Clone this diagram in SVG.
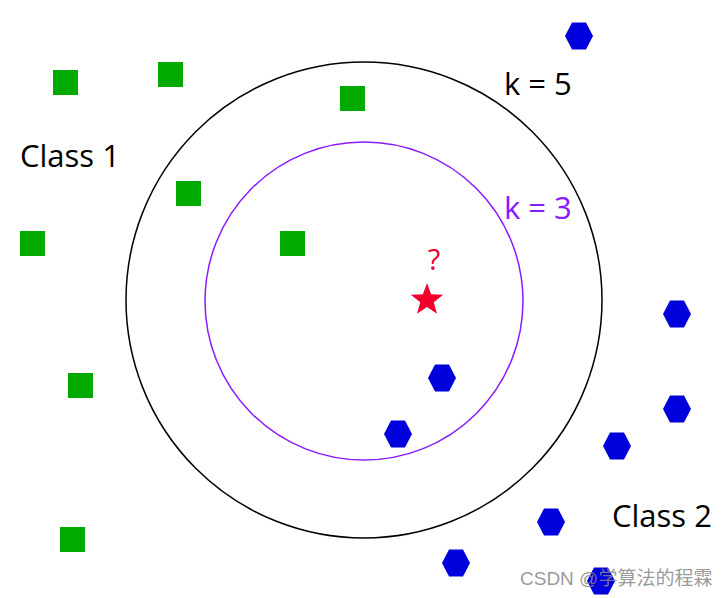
<svg xmlns="http://www.w3.org/2000/svg" xmlns:xlink="http://www.w3.org/1999/xlink" width="727" height="598" viewBox="0 0 727 598">
<style>
.sq{fill:#00aa00}
.hx{fill:#0000dd}
.lbl{font-family:"Open Sans","Noto Sans",sans-serif;font-size:31px}
</style>
<defs>
<polygon id="hex" points="-14,0 -7,-13.5 7,-13.5 14,0 7,13.5 -7,13.5"/>
</defs>
<rect width="727" height="598" fill="#fff"/>
<g id="connectors">
<circle id="k5" cx="364" cy="300" r="238" fill="none" stroke="#000" stroke-width="1.5"/>
<circle id="k3" cx="364" cy="301" r="159" fill="none" stroke="#8a1aff" stroke-width="1.5"/>
</g>
<g id="class1">
<rect class="sq" x="53" y="70" width="25" height="25"/>
<rect class="sq" x="158" y="62" width="25" height="25"/>
<rect class="sq" x="340" y="86" width="25" height="25"/>
<rect class="sq" x="176" y="181" width="25" height="25"/>
<rect class="sq" x="20" y="231" width="25" height="25"/>
<rect class="sq" x="280" y="231" width="25" height="25"/>
<rect class="sq" x="68" y="373" width="25" height="25"/>
<rect class="sq" x="60" y="527" width="25" height="25"/>
</g>
<g id="class2">
<use class="hx" href="#hex" xlink:href="#hex" x="579" y="36"/>
<use class="hx" href="#hex" xlink:href="#hex" x="442" y="378"/>
<use class="hx" href="#hex" xlink:href="#hex" x="398" y="434"/>
<use class="hx" href="#hex" xlink:href="#hex" x="677" y="314"/>
<use class="hx" href="#hex" xlink:href="#hex" x="677" y="409"/>
<use class="hx" href="#hex" xlink:href="#hex" x="617" y="446"/>
<use class="hx" href="#hex" xlink:href="#hex" x="551" y="522"/>
<use class="hx" href="#hex" xlink:href="#hex" x="456" y="563"/>
<use class="hx" href="#hex" xlink:href="#hex" x="601" y="581"/>
</g>
<g id="query">
<polygon fill="#f0002c" points="427,283 431.1,294.3 443.2,294.7 433.7,302.2 437,313.8 427,307 417,313.8 420.3,302.2 410.8,294.7 422.9,294.3"/>
<text x="434" y="270" text-anchor="middle" font-family="'Open Sans',sans-serif" font-size="29" fill="#f0002c">?</text>
</g>
<g id="labels">
<text class="lbl" x="504" y="95" fill="#000">k = 5</text>
<text class="lbl" x="504" y="219" fill="#8a1aff">k = 3</text>
<text class="lbl" x="20" y="167" fill="#000">Class 1</text>
<text class="lbl" x="612" y="527" fill="#000">Class 2</text>
</g>
<text x="520" y="585" font-family="'Liberation Sans','Noto Sans CJK SC',sans-serif" font-size="19" fill="#888" fill-opacity="0.85">CSDN @学算法的程霖</text>
</svg>
